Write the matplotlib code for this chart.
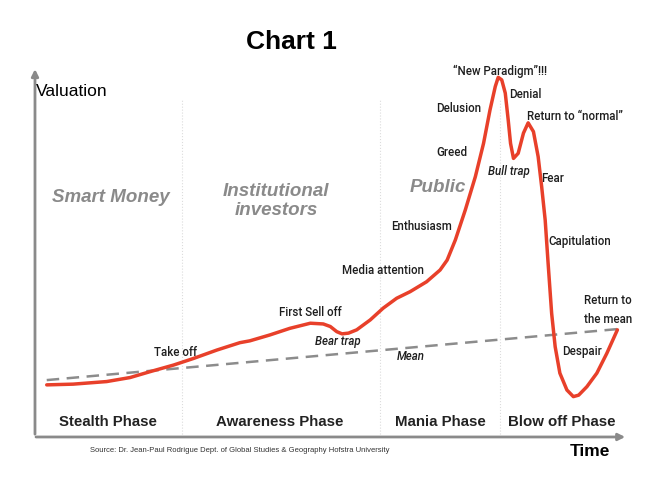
import matplotlib
matplotlib.use('Agg')
import matplotlib.pyplot as plt

# 数据：时间（0-100）与估值（0-100）
time = [2.0, 6.5, 12.2, 16.2, 19.6, 23.6, 27.0, 31.0, 34.9, 36.6, 40.0, 43.4, 46.9, 49.1,
        50.3, 51.4, 52.3, 53.4, 54.8, 57.1, 59.3, 61.6, 63.9, 66.7, 69.0, 70.2, 71.6, 73.3,
        75.0, 76.4, 77.5, 78.4, 78.9, 79.5, 80.1, 80.6, 81.0, 81.5, 82.3, 83.2, 84.0, 84.9,
        85.7, 86.3, 86.9, 87.4, 88.0, 88.6, 89.4, 90.6, 91.7, 92.6, 94.0, 95.7, 97.4, 99.2]
valuation = [14.2, 14.4, 15.1, 16.2, 17.8, 19.6, 21.4, 23.7, 25.7, 26.2, 27.8, 29.6, 31.0,
             30.8, 30.1, 28.7, 28.1, 28.3, 29.2, 31.9, 35.1, 37.8, 39.6, 42.3, 45.5, 48.2,
             53.7, 61.9, 70.9, 80.0, 89.1, 95.5, 98.0, 97.3, 93.7, 86.4, 80.0, 75.9, 77.3,
             82.8, 85.6, 83.2, 76.4, 68.2, 59.1, 47.3, 33.7, 24.6, 17.4, 12.8, 11.0, 11.4,
             13.7, 17.4, 22.8, 29.2]
mean_time = [2.0, 99.2]
mean_value = [15.5, 29.4]
phase_edges = [25.0, 58.8, 79.2]

phase_names = ['Stealth Phase', 'Awareness Phase', 'Mania Phase', 'Blow off Phase']
phase_x = [108, 280, 440, 562]

# (文字, x像素, y像素, 斜体)
labels = [
    ('Take off', 175, 352, False),
    ('First Sell off', 310, 312, False),
    ('Bear trap', 338, 342, True),
    ('Media attention', 383, 271, False),
    ('Enthusiasm', 421, 227, False),
    ('Greed', 452, 153, False),
    ('Delusion', 459, 108, False),
    ('\u201cNew Paradigm\u201d!!!', 500, 71, False),
    ('Denial', 525, 94, False),
    ('Return to \u201cnormal\u201d', 575, 117, False),
    ('Bull trap', 509, 171, True),
    ('Fear', 553, 178, False),
    ('Capitulation', 580, 241, False),
    ('Return to\nthe mean', 608, 310, False),
    ('Despair', 582, 351, False),
    ('Mean', 411, 357, True),
]
crowd = [('Smart Money', 111, 198), ('Institutional\ninvestors', 276, 201), ('Public', 438, 188)]

W, H = 672, 480
fig = plt.figure(figsize=(W / 100, H / 100), dpi=100)
ax = fig.add_axes([0, 0, 1, 1])
ax.set_xlim(-5.96, 108.5)
ax.set_ylim(-11.72, 119.07)
ax.axis('off')

small = ['Roboto', 'DejaVu Sans']
arial = ['Liberation Sans', 'DejaVu Sans']


def ftext(x, y, s, **kw):
    fig.text(x / W, 1 - y / H, s, **kw)


# 阶段分隔线
for e in phase_edges:
    ax.plot([e, e], [0, 92], color='#dcdcdc', lw=0.8, ls=':')

# 坐标轴箭头
ax.annotate('', xy=(0, 101), xytext=(0, 0),
            arrowprops=dict(arrowstyle='-|>', color='#8a8a8a', lw=2, mutation_scale=10))
ax.annotate('', xy=(101, 0), xytext=(-0.3, 0),
            arrowprops=dict(arrowstyle='-|>', color='#8a8a8a', lw=2, mutation_scale=10))

# 均值线与估值曲线
ax.plot(mean_time, mean_value, color='#8c8c8c', lw=1.8, ls=(0, (5, 3)))
ax.plot(time, valuation, color='#e8402a', lw=2.5, solid_capstyle='round', solid_joinstyle='round')

ftext(291, 42, 'Chart 1', family=arial, fontsize=19, fontweight='bold', ha='center', va='center')
ftext(36, 92, 'Valuation', family=arial, fontsize=12.5, ha='left', va='center')
ftext(590, 452, 'Time', family=arial, fontsize=12.5, fontweight='bold', ha='center', va='center')
ftext(90, 451, 'Source: Dr. Jean-Paul Rodrigue Dept. of Global Studies & Geography Hofstra University',
      family=arial, fontsize=5.5, ha='left', va='center', color='#333333')

for name, x in zip(phase_names, phase_x):
    ftext(x, 422, name, family=arial, fontsize=10.8, fontweight='bold', ha='center', va='center',
          color='#222222')

for s, x, y in crowd:
    ftext(x, y, s, family=arial, fontsize=13.5, fontweight='bold', style='italic', ha='center',
          va='center', color='#8a8a8a', linespacing=1.1)

for s, x, y, it in labels:
    ftext(x, y, s, family=small, fontsize=8.3, fontweight='medium',
          style='italic' if it else 'normal',
          ha='center', va='center', color='#1e1e1e', linespacing=1.55)

fig.savefig('out.png', dpi=100)
